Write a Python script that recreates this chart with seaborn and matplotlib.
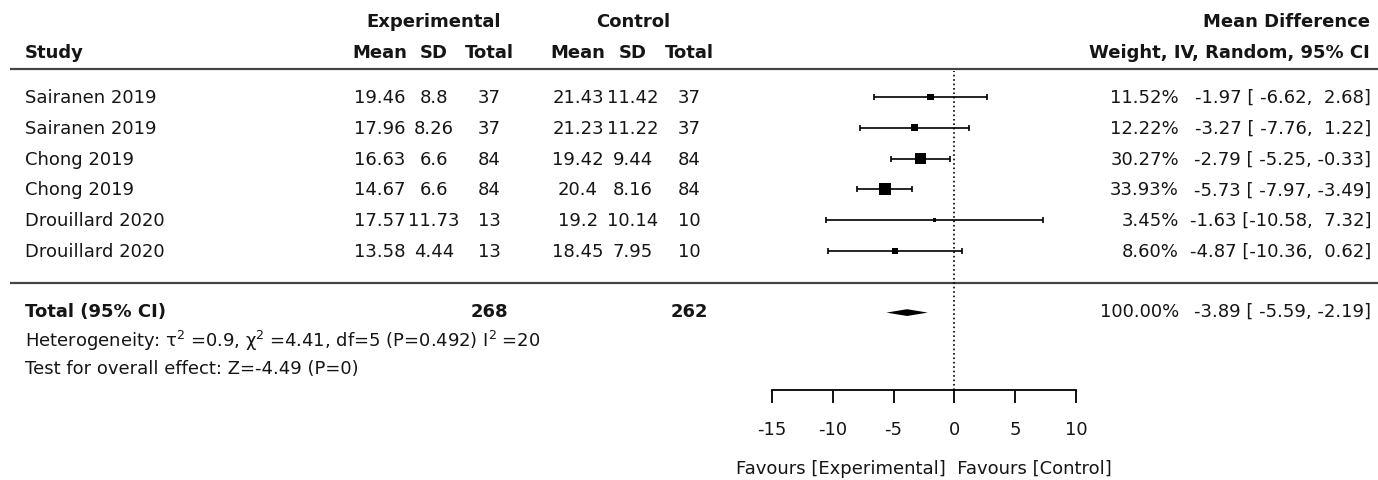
import numpy as np
import pandas as pd
import matplotlib
matplotlib.use('Agg')
import matplotlib.pyplot as plt
import seaborn as sns

studies = ['Sairanen 2019', 'Sairanen 2019', 'Chong 2019', 'Chong 2019',
           'Drouillard 2020', 'Drouillard 2020']
exp_mean = [19.46, 17.96, 16.63, 14.67, 17.57, 13.58]
exp_sd = [8.8, 8.26, 6.6, 6.6, 11.73, 4.44]
exp_n = [37, 37, 84, 84, 13, 13]
ctl_mean = [21.43, 21.23, 19.42, 20.4, 19.2, 18.45]
ctl_sd = [11.42, 11.22, 9.44, 8.16, 10.14, 7.95]
ctl_n = [37, 37, 84, 84, 10, 10]
md = [-1.97, -3.27, -2.79, -5.73, -1.63, -4.87]
ci_lo = [-6.62, -7.76, -5.25, -7.97, -10.58, -10.36]
ci_hi = [2.68, 1.22, -0.33, -3.49, 7.32, 0.62]
weight = [11.52, 12.22, 30.27, 33.93, 3.45, 8.60]

total_md, total_lo, total_hi = -3.89, -5.59, -2.19
total_weight = 100.00
total_exp_n, total_ctl_n = 268, 262
het_text = r'Heterogeneity: τ$^2\;$=0.9, χ$^2\;$=4.41, df=5 (P=0.492) I$^2\;$=20'
test_text = 'Test for overall effect: Z=-4.49 (P=0)'
xticks = [-15, -10, -5, 0, 5, 10]

df = pd.DataFrame({'study': studies, 'md': md, 'lo': ci_lo, 'hi': ci_hi,
                   'weight': weight, 'row': np.arange(len(studies))})

sns.set_style('white')
plt.rcParams['font.family'] = 'DejaVu Sans'
fs = 13
txt = '#151515'

W, H = 1378, 481
fig = plt.figure(figsize=(W / 100, H / 100), dpi=100)

# text layer in pixel coordinates
tab = fig.add_axes([0, 0, 1, 1])
tab.set_xlim(0, W)
tab.set_ylim(H, 0)
tab.axis('off')

def row_y(i):
    return 98 + 30.8 * i

# headers
tab.text(434, 22, 'Experimental', ha='center', va='center', fontsize=fs, weight='bold', color=txt)
tab.text(633, 22, 'Control', ha='center', va='center', fontsize=fs, weight='bold', color=txt)
tab.text(1370, 22, 'Mean Difference', ha='right', va='center', fontsize=fs, weight='bold', color=txt)
tab.text(25, 53, 'Study', ha='left', va='center', fontsize=fs, weight='bold', color=txt)
for x, lab in zip([380, 434, 489, 578, 633, 689], ['Mean', 'SD', 'Total'] * 2):
    tab.text(x, 53, lab, ha='center', va='center', fontsize=fs, weight='bold', color=txt)
tab.text(1370, 53, 'Weight, IV, Random, 95% CI', ha='right', va='center', fontsize=fs,
         weight='bold', color=txt)

tab.plot([10, W], [70, 70], color='#444444', lw=1.6, solid_capstyle='butt')
tab.plot([10, W], [284, 284], color='#444444', lw=1.6, solid_capstyle='butt')

# study rows
for i in range(len(studies)):
    y = row_y(i)
    tab.text(25, y, studies[i], ha='left', va='center', fontsize=fs, color=txt)
    tab.text(380, y, f'{exp_mean[i]:g}', ha='center', va='center', fontsize=fs, color=txt)
    tab.text(434, y, f'{exp_sd[i]:g}', ha='center', va='center', fontsize=fs, color=txt)
    tab.text(489, y, f'{exp_n[i]}', ha='center', va='center', fontsize=fs, color=txt)
    tab.text(578, y, f'{ctl_mean[i]:g}', ha='center', va='center', fontsize=fs, color=txt)
    tab.text(633, y, f'{ctl_sd[i]:g}', ha='center', va='center', fontsize=fs, color=txt)
    tab.text(689, y, f'{ctl_n[i]}', ha='center', va='center', fontsize=fs, color=txt)
    tab.text(1179, y, f'{weight[i]:.2f}%', ha='right', va='center', fontsize=fs, color=txt)
    tab.text(1371, y, f'{md[i]:.2f} [{ci_lo[i]:6.2f}, {ci_hi[i]:5.2f}]', ha='right',
             va='center', fontsize=fs, color=txt)

# total block
tab.text(25, 312, 'Total (95% CI)', ha='left', va='center', fontsize=fs, weight='bold', color=txt)
tab.text(489, 312, str(total_exp_n), ha='center', va='center', fontsize=fs, weight='bold', color=txt)
tab.text(689, 312, str(total_ctl_n), ha='center', va='center', fontsize=fs, weight='bold', color=txt)
tab.text(1179, 312, f'{total_weight:.2f}%', ha='right', va='center', fontsize=fs, color=txt)
tab.text(1371, 312, f'{total_md:.2f} [{total_lo:6.2f}, {total_hi:5.2f}]', ha='right',
         va='center', fontsize=fs, color=txt)
tab.text(25, 341, het_text, ha='left', va='center', fontsize=fs, color=txt)
tab.text(25, 369, test_text, ha='left', va='center', fontsize=fs, color=txt)

# forest panel
top_px, axis_px = 72, 391
ax = fig.add_axes([772 / W, 1 - axis_px / H, 304 / W, (axis_px - top_px) / H])
ax.patch.set_alpha(0)
ax.errorbar(df['md'], df['row'], xerr=[df['md'] - df['lo'], df['hi'] - df['md']],
            fmt='none', ecolor='black', elinewidth=1.2, capsize=2.5, capthick=1.2)
sns.scatterplot(data=df, x='md', y='row', size='weight', sizes=(0, 218), size_norm=(0, 100),
                marker='s', color='black', edgecolor='none', legend=False, ax=ax, zorder=3)

total_row = 7
h = 0.11
ax.fill([total_lo, total_md, total_hi, total_md],
        [total_row, total_row - h, total_row, total_row + h], color='black', lw=0)
ax.axvline(0, color='black', ls=':', lw=1.2)

ax.set_xlim(-15, 10)
ax.set_ylim((axis_px - 98) / 30.8, (top_px - 98) / 30.8)
ax.set_xticks(xticks)
ax.set_xticklabels([str(t) for t in xticks], fontsize=fs, color=txt)
ax.set_yticks([])
ax.set_ylabel('')
ax.set_xlabel('Favours [Experimental]  Favours [Control]', fontsize=fs, color=txt, labelpad=15)
for s in ['top', 'left', 'right']:
    ax.spines[s].set_visible(False)
ax.spines['bottom'].set_color('black')
ax.spines['bottom'].set_linewidth(1.3)
ax.tick_params(axis='x', direction='out', length=9.5, width=1.3, pad=12, bottom=True,
               color='black')

fig.savefig('out.png', dpi=100)
